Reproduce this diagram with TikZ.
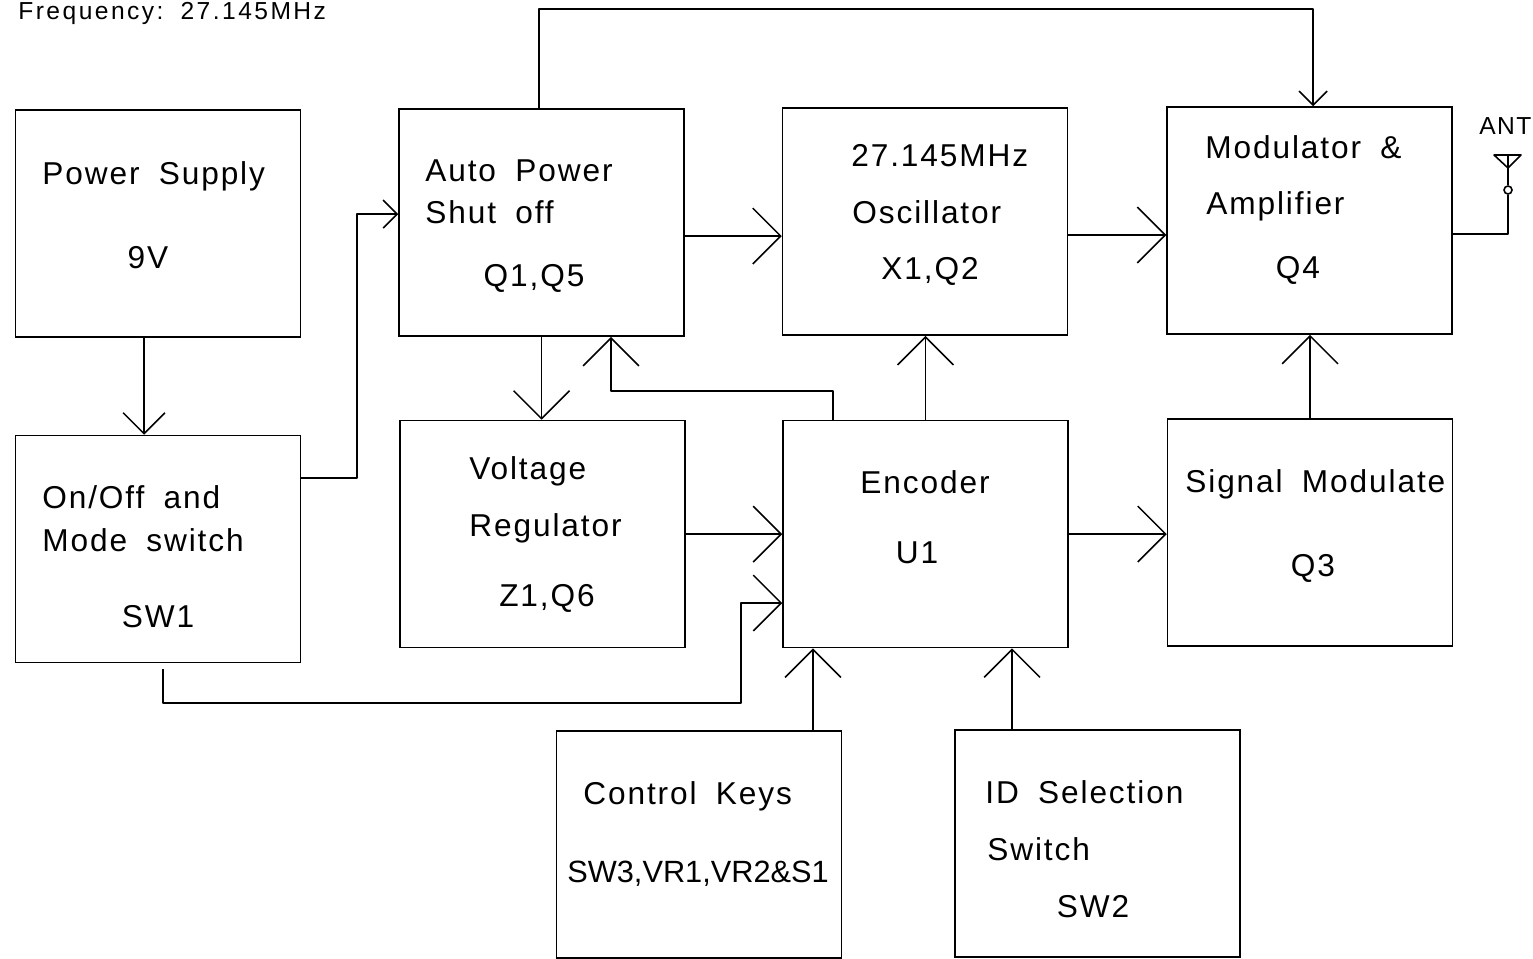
\documentclass[tikz,border=0pt]{standalone}
\usepackage{fontspec}
\setmainfont[LetterSpace=6,WordSpace=1.8]{Liberation Sans}
\newfontfamily\freqfont[LetterSpace=10,WordSpace=1.5]{Liberation Sans}
\newfontfamily\tightfont{Liberation Sans}
\usepackage{tikz}
\usetikzlibrary{arrows.meta, positioning, calc}

\begin{document}
\begin{tikzpicture}[x=0.02cm, y=-0.02cm,
    block/.style={rectangle, draw, line width=0.9pt, minimum width=5.7cm, minimum height=4.54cm, inner sep=0pt},
    txt/.style={anchor=base west, inner sep=0pt, font=\fontsize{18}{20}\selectfont},
    ctxt/.style={anchor=base, inner sep=0pt, font=\fontsize{18}{20}\selectfont},
    ftxt/.style={anchor=base west, inner sep=0pt, font=\freqfont\fontsize{14}{16}\selectfont},
    atxt/.style={anchor=base west, inner sep=0pt, font=\fontsize{14}{16}\selectfont},
    line/.style={line width=0.9pt, line join=round},
    arrbig/.style={line, -{Straight Barb[length=15.9pt, width=31.8pt]}},
    arrmid/.style={line, -{Straight Barb[length=11.9pt, width=23.8pt]}},
    arrsmall/.style={line, -{Straight Barb[length=8pt, width=16pt]}}]
\useasboundingbox (0,0) rectangle (1533,958);
\clip (0,0) rectangle (1533,958);
% 方框
\node[block] (ps) at (158,223.5) {};
\node[block] (sw) at (158,549) {};
\node[block] (aps) at (541.5,222.5) {};
\node[block] (vr) at (542.5,534) {};
\node[block] (osc) at (925,221.5) {};
\node[block] (enc) at (925.5,534) {};
\node[block] (mod) at (1309.5,220.5) {};
\node[block] (sig) at (1310,532.5) {};
\node[block] (keys) at (699,844.5) {};
\node[block] (idsw) at (1097.5,843.5) {};
% 文字
\node[ftxt] (freq) at (18,19) {Frequency: 27.145MHz};
\node[txt] (ps1) at (42,184) {Power Supply};
\node[ctxt] (ps2) at (148,268) {9V};
\node[txt] (sw1) at (42,508) {On/Off and};
\node[txt] (sw2) at (42,551) {Mode switch};
\node[ctxt] (sw3) at (158,627) {SW1};
\node[txt] (aps1) at (425,181) {Auto Power};
\node[txt] (aps2) at (425,223) {Shut off};
\node[ctxt] (aps3) at (534,286) {Q1,Q5};
\node[txt] (osc1) at (851,166) {27.145MHz};
\node[txt] (osc2) at (852,223) {Oscillator};
\node[ctxt] (osc3) at (930,279) {X1,Q2};
\node[txt] (mod1) at (1205,158) {Modulator \&};
\node[txt] (mod2) at (1206,214) {Amplifier};
\node[ctxt] (mod3) at (1298,278) {Q4};
\node[txt] (vr1) at (469,479) {Voltage};
\node[txt] (vr2) at (469,536) {Regulator};
\node[ctxt] (vr3) at (547,606) {Z1,Q6};
\node[ctxt] (enc1) at (925,493) {Encoder};
\node[ctxt] (enc2) at (917,563) {U1};
\node[txt] (sig1) at (1185,492) {Signal Modulate};
\node[ctxt] (sig2) at (1313,576) {Q3};
\node[txt] (keys1) at (583,804) {Control Keys};
\node[txt, font=\tightfont\fontsize{17.5}{20}\selectfont] (keys2) at (567,882) {SW3,VR1,VR2\&S1};
\node[txt] (id1) at (985,803) {ID Selection};
\node[txt] (id2) at (987,860) {Switch};
\node[ctxt] (id3) at (1093,917) {SW2};
\node[atxt] (ant) at (1479,134) {ANT};
% 天线
\node[circle, draw, line width=0.9pt, inner sep=0pt, minimum size=0.16cm] (antc) at (1508,190) {};
\coordinate (apex) at (1508,168);
\draw[line] (antc.north) -- (apex);
\draw[line] (apex) -- (1494,155) -- (1521,155) -- cycle;
\draw[line] (apex) -- (1508,155);
% 连线
\coordinate (swout) at (163,669);
\coordinate (bend) at (741,703);
\draw[arrmid] ([xshift=-0.28cm]ps.south) -- ([xshift=-0.28cm]sw.north);
\draw[arrsmall] ([yshift=1.42cm]sw.east) -- ++(56,0) |- ([yshift=0.17cm]aps.west);
\draw[arrsmall] ([xshift=-0.05cm]aps.north) -- ++(0,-99) -| ([xshift=0.07cm]mod.north);
\draw[arrbig] ([yshift=-0.27cm]aps.east) -- ([yshift=-0.27cm]aps.east -| osc.west);
\draw[arrbig] ([yshift=-0.27cm]osc.east) -- ([yshift=-0.27cm]osc.east -| mod.west);
\draw[line] ([yshift=-0.27cm]mod.east) -| (antc.south);
\draw[arrbig] (aps.south) -- (aps.south |- vr.north);
\draw[arrbig] ([xshift=-1.85cm]enc.north) -- ++(0,-29) -| ([xshift=1.39cm]aps.south);
\draw[arrbig] (enc.north) -- (enc.north |- osc.south);
\draw[arrbig] (sig.north) -- (sig.north |- mod.south);
\draw[arrbig] (vr.east) -- (vr.east -| enc.west);
\draw[arrbig] (enc.east) -- (enc.east -| sig.west);
\draw[arrbig] (swout) |- (bend) |- ([yshift=-1.38cm]enc.west);
\draw[arrbig] ([xshift=2.28cm]keys.north) -- ([xshift=2.28cm]keys.north |- enc.south);
\draw[arrbig] ([xshift=-1.71cm]idsw.north) -- ([xshift=-1.71cm]idsw.north |- enc.south);
\end{tikzpicture}
\end{document}
